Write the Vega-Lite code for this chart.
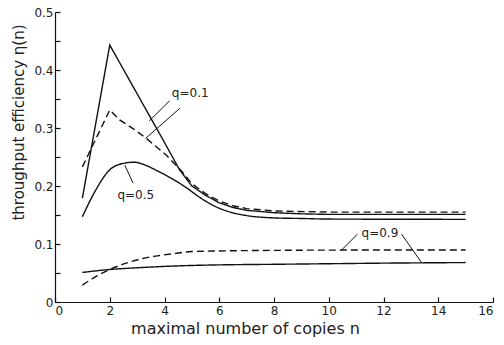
{
  "$schema": "https://vega.github.io/schema/vega-lite/v6.json",
  "autosize": "none",
  "width": 438,
  "height": 290,
  "padding": {"left": 55, "top": 12, "right": 11, "bottom": 43},
  "background": "white",
  "config": {
    "view": {"stroke": null},
    "font": "DejaVu Sans",
    "axis": {
      "domainColor": "#111",
      "domainWidth": 1.2,
      "tickColor": "#111",
      "tickWidth": 1.2,
      "tickSize": -5,
      "grid": false,
      "labelFont": "DejaVu Sans",
      "labelFontSize": 12,
      "labelColor": "#222",
      "titleFont": "DejaVu Sans",
      "titleFontSize": 15,
      "titleFontWeight": "normal",
      "titleColor": "#222"
    }
  },
  "datasets": {
    "curves": [
      {"series": "q0.1s", "style": "solid", "n": 1, "eta": 0.179},
      {"series": "q0.1s", "style": "solid", "n": 2, "eta": 0.443},
      {"series": "q0.1s", "style": "solid", "n": 3, "eta": 0.359},
      {"series": "q0.1s", "style": "solid", "n": 4, "eta": 0.275},
      {"series": "q0.1s", "style": "solid", "n": 4.55, "eta": 0.228},
      {"series": "q0.1s", "style": "solid", "n": 5, "eta": 0.2},
      {"series": "q0.1s", "style": "solid", "n": 5.5, "eta": 0.184},
      {"series": "q0.1s", "style": "solid", "n": 6, "eta": 0.171},
      {"series": "q0.1s", "style": "solid", "n": 6.5, "eta": 0.163},
      {"series": "q0.1s", "style": "solid", "n": 7, "eta": 0.158},
      {"series": "q0.1s", "style": "solid", "n": 8, "eta": 0.154},
      {"series": "q0.1s", "style": "solid", "n": 9, "eta": 0.152},
      {"series": "q0.1s", "style": "solid", "n": 10, "eta": 0.151},
      {"series": "q0.1s", "style": "solid", "n": 15, "eta": 0.151},
      {"series": "q0.1d", "style": "dashed", "n": 1, "eta": 0.233},
      {"series": "q0.1d", "style": "dashed", "n": 2, "eta": 0.331},
      {"series": "q0.1d", "style": "dashed", "n": 2.36, "eta": 0.314},
      {"series": "q0.1d", "style": "dashed", "n": 2.85, "eta": 0.299},
      {"series": "q0.1d", "style": "dashed", "n": 3.34, "eta": 0.282},
      {"series": "q0.1d", "style": "dashed", "n": 4.07, "eta": 0.253},
      {"series": "q0.1d", "style": "dashed", "n": 4.62, "eta": 0.226},
      {"series": "q0.1d", "style": "dashed", "n": 5, "eta": 0.204},
      {"series": "q0.1d", "style": "dashed", "n": 5.5, "eta": 0.187},
      {"series": "q0.1d", "style": "dashed", "n": 6, "eta": 0.174},
      {"series": "q0.1d", "style": "dashed", "n": 6.5, "eta": 0.166},
      {"series": "q0.1d", "style": "dashed", "n": 7, "eta": 0.161},
      {"series": "q0.1d", "style": "dashed", "n": 8, "eta": 0.157},
      {"series": "q0.1d", "style": "dashed", "n": 10, "eta": 0.155},
      {"series": "q0.1d", "style": "dashed", "n": 15, "eta": 0.155},
      {"series": "q0.5s", "style": "solid", "n": 1, "eta": 0.147},
      {"series": "q0.5s", "style": "solid", "n": 1.5, "eta": 0.194},
      {"series": "q0.5s", "style": "solid", "n": 2, "eta": 0.228},
      {"series": "q0.5s", "style": "solid", "n": 2.5, "eta": 0.239},
      {"series": "q0.5s", "style": "solid", "n": 2.9, "eta": 0.241},
      {"series": "q0.5s", "style": "solid", "n": 3.3, "eta": 0.236},
      {"series": "q0.5s", "style": "solid", "n": 3.7, "eta": 0.227},
      {"series": "q0.5s", "style": "solid", "n": 4.3, "eta": 0.212},
      {"series": "q0.5s", "style": "solid", "n": 4.8, "eta": 0.197},
      {"series": "q0.5s", "style": "solid", "n": 5.3, "eta": 0.18},
      {"series": "q0.5s", "style": "solid", "n": 5.8, "eta": 0.166},
      {"series": "q0.5s", "style": "solid", "n": 6.4, "eta": 0.155},
      {"series": "q0.5s", "style": "solid", "n": 7, "eta": 0.149},
      {"series": "q0.5s", "style": "solid", "n": 8, "eta": 0.145},
      {"series": "q0.5s", "style": "solid", "n": 9, "eta": 0.144},
      {"series": "q0.5s", "style": "solid", "n": 10, "eta": 0.143},
      {"series": "q0.5s", "style": "solid", "n": 15, "eta": 0.1425},
      {"series": "q0.9d", "style": "dashed", "n": 1, "eta": 0.029},
      {"series": "q0.9d", "style": "dashed", "n": 1.5, "eta": 0.044},
      {"series": "q0.9d", "style": "dashed", "n": 2, "eta": 0.056},
      {"series": "q0.9d", "style": "dashed", "n": 2.6, "eta": 0.067},
      {"series": "q0.9d", "style": "dashed", "n": 3.2, "eta": 0.075},
      {"series": "q0.9d", "style": "dashed", "n": 3.8, "eta": 0.08},
      {"series": "q0.9d", "style": "dashed", "n": 4.44, "eta": 0.084},
      {"series": "q0.9d", "style": "dashed", "n": 5, "eta": 0.087},
      {"series": "q0.9d", "style": "dashed", "n": 6, "eta": 0.088},
      {"series": "q0.9d", "style": "dashed", "n": 8, "eta": 0.089},
      {"series": "q0.9d", "style": "dashed", "n": 10, "eta": 0.0895},
      {"series": "q0.9d", "style": "dashed", "n": 15, "eta": 0.0897},
      {"series": "q0.9s", "style": "solid", "n": 1, "eta": 0.051},
      {"series": "q0.9s", "style": "solid", "n": 2, "eta": 0.056},
      {"series": "q0.9s", "style": "solid", "n": 3, "eta": 0.059},
      {"series": "q0.9s", "style": "solid", "n": 3.83, "eta": 0.061},
      {"series": "q0.9s", "style": "solid", "n": 5, "eta": 0.063},
      {"series": "q0.9s", "style": "solid", "n": 6, "eta": 0.064},
      {"series": "q0.9s", "style": "solid", "n": 8, "eta": 0.065},
      {"series": "q0.9s", "style": "solid", "n": 10, "eta": 0.066},
      {"series": "q0.9s", "style": "solid", "n": 12, "eta": 0.067},
      {"series": "q0.9s", "style": "solid", "n": 15, "eta": 0.068}
    ],
    "labels": [
      {"label": "q=0.1", "n": 4.94, "eta": 0.36},
      {"label": "q=0.5", "n": 2.95, "eta": 0.184},
      {"label": "q=0.9", "n": 11.87, "eta": 0.119}
    ],
    "leaders": [
      {"n1": 4.19, "e1": 0.347, "n2": 3.44, "e2": 0.312},
      {"n1": 4.56, "e1": 0.334, "n2": 3.31, "e2": 0.282},
      {"n1": 2.55, "e1": 0.236, "n2": 2.85, "e2": 0.205},
      {"n1": 11.05, "e1": 0.117, "n2": 10.47, "e2": 0.0897},
      {"n1": 12.66, "e1": 0.117, "n2": 13.39, "e2": 0.068}
    ]
  },
  "encoding": {
    "x": {
      "field": "n", "type": "quantitative",
      "scale": {"domain": [0, 16], "nice": false, "zero": true},
      "axis": {
        "values": [0, 2, 4, 6, 8, 10, 12, 14, 16],
        "format": "d",
        "labelPadding": 8,
        "title": "maximal number of copies n",
        "titleFontSize": 16,
        "titleX": 190,
        "titleY": 31,
        "titleAnchor": null,
        "titleAlign": "center",
        "titleBaseline": "alphabetic"
      }
    },
    "y": {
      "field": "eta", "type": "quantitative",
      "scale": {"domain": [0, 0.5], "nice": false},
      "axis": {
        "values": [0, 0.05, 0.1, 0.15, 0.2, 0.25, 0.3, 0.35, 0.4, 0.45, 0.5],
        "labelExpr": "round(datum.value*100) % 10 == 0 ? (datum.value == 0 ? '0' : format(datum.value, '.1f')) : ''",
        "labelPadding": 7,
        "title": "throughput efficiency η(n)",
        "titleX": -32,
        "titleY": 110,
        "titleAngle": -90,
        "titleAlign": "center",
        "titleBaseline": "alphabetic"
      }
    }
  },
  "layer": [
    {
      "data": {"name": "curves"},
      "transform": [{"filter": "datum.series == 'q0.1s' || datum.series == 'q0.1d'"}],
      "mark": {"type": "line", "color": "#111", "strokeWidth": 1.4},
      "encoding": {
        "detail": {"field": "series", "type": "nominal"},
        "strokeDash": {
          "field": "style", "type": "nominal",
          "scale": {"domain": ["solid", "dashed"], "range": [[1, 0], [7, 4]]},
          "legend": null
        }
      }
    },
    {
      "data": {"name": "curves"},
      "transform": [{"filter": "datum.series != 'q0.1s' && datum.series != 'q0.1d'"}],
      "mark": {"type": "line", "color": "#111", "strokeWidth": 1.4, "interpolate": "monotone"},
      "encoding": {
        "detail": {"field": "series", "type": "nominal"},
        "strokeDash": {
          "field": "style", "type": "nominal",
          "scale": {"domain": ["solid", "dashed"], "range": [[1, 0], [7, 4]]},
          "legend": null
        }
      }
    },
    {
      "data": {"name": "leaders"},
      "mark": {"type": "rule", "color": "#111", "strokeWidth": 1},
      "encoding": {
        "x": {"field": "n1", "type": "quantitative"},
        "y": {"field": "e1", "type": "quantitative"},
        "x2": {"field": "n2"},
        "y2": {"field": "e2"}
      }
    },
    {
      "data": {"name": "labels"},
      "mark": {"type": "text", "fontSize": 12, "font": "DejaVu Sans", "color": "#222", "baseline": "middle", "align": "center"},
      "encoding": {
        "x": {"field": "n", "type": "quantitative"},
        "y": {"field": "eta", "type": "quantitative"},
        "text": {"field": "label"}
      }
    }
  ]
}
